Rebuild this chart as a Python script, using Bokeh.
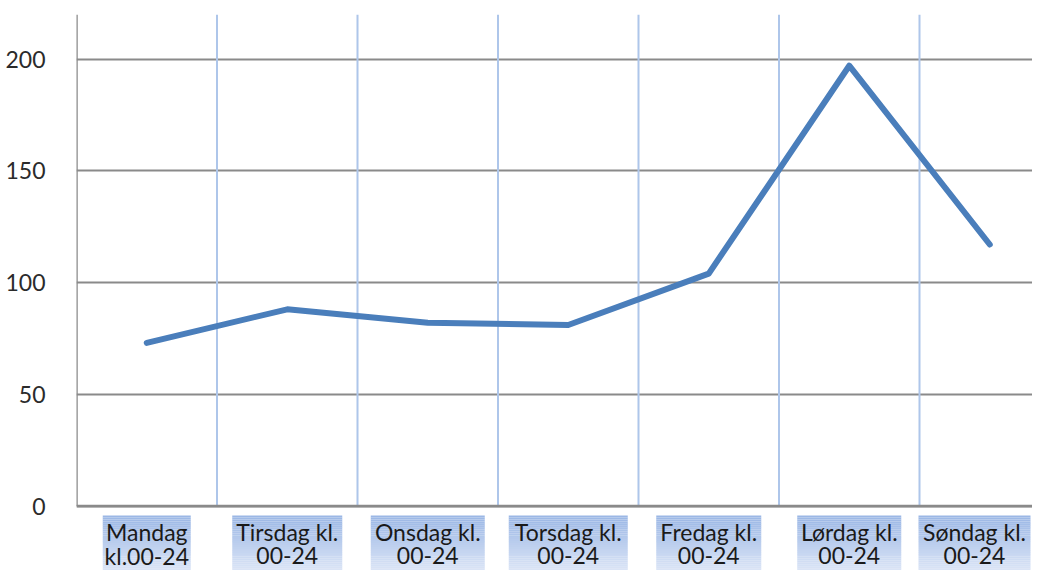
from bokeh.plotting import figure
from bokeh.models import FixedTicker, Range1d
from bokeh.core.properties import value
from bokeh.embed import file_html
from bokeh.resources import INLINE

# ---- data ----
categories = ["Mandag\nkl.00-24", "Tirsdag kl.\n00-24", "Onsdag kl.\n00-24",
              "Torsdag kl.\n00-24", "Fredag kl.\n00-24", "Lørdag kl.\n00-24",
              "Søndag kl.\n00-24"]
values = [73, 88, 82, 81, 104, 197, 117]
y_ticks = [0, 50, 100, 150, 200]

# ---- style / layout constants ----
W, H = 1032, 570
LEFT, TOP = 76, 14
CAT_PX = 140.5           # pixels per category
PX_PER_UNIT = 2.235      # pixels per y unit
ZERO_FROM_TOP = 491.5    # pixels from frame top to y=0
frame_w = W - LEFT
frame_h = H - TOP
x_end = frame_w / CAT_PX
y_top = ZERO_FROM_TOP / PX_PER_UNIT
y_bot = -(frame_h - ZERO_FROM_TOP) / PX_PER_UNIT
box_px = [88, 110, 114, 119, 105, 104, 112]   # label box widths in px
FONT = "Lato"


def px_to_y(canvas_y):
    """canvas pixel row -> data y"""
    return -(canvas_y - TOP - ZERO_FROM_TOP) / PX_PER_UNIT


p = figure(width=W, height=H, output_backend="svg", toolbar_location=None,
           x_range=Range1d(0, x_end), y_range=Range1d(y_bot, y_top),
           x_axis_location=None, min_border_left=LEFT, min_border_top=TOP,
           min_border_bottom=0, min_border_right=0)
p.outline_line_color = None
p.background_fill_color = "white"
p.border_fill_color = "white"

# y axis
p.yaxis.ticker = FixedTicker(ticks=y_ticks)
p.yaxis.axis_line_color = None
p.yaxis.major_tick_line_color = None
p.yaxis.minor_tick_line_color = None
p.yaxis.major_label_standoff = 25
p.yaxis.major_label_text_font = FONT
p.yaxis.major_label_text_font_size = "23px"
p.yaxis.major_label_text_color = "#2b2b2b"

# horizontal grid
p.ygrid.ticker = FixedTicker(ticks=y_ticks)
p.ygrid.grid_line_color = "#8a8a8a"
p.ygrid.grid_line_width = 2
p.xgrid.grid_line_color = None

n = len(categories)
xs = [i + 0.5 for i in range(n)]
# label centres, kept inside the frame
lx = [min(x, x_end - (box_px[i] / 2 + 2) / CAT_PX) for i, x in enumerate(xs)]

# vertical grid lines between categories (only in plot area)
bx = [float(i) for i in range(1, n)]
p.segment(x0=bx, y0=[0] * len(bx), x1=bx, y1=[y_top] * len(bx),
          line_color="#aec6ea", line_width=2)

# axis lines
p.segment(x0=[0], y0=[0], x1=[0], y1=[y_top], line_color="#8a8a8a", line_width=2.5)
p.segment(x0=[0], y0=[0], x1=[x_end], y1=[0], line_color="#8a8a8a", line_width=2.5)

# gradient label boxes
top_c = (155, 183, 229)
bot_c = (218, 228, 246)
box_top = px_to_y(515)
steps = 28
span = box_top - y_bot
for s in range(steps):
    t = s / (steps - 1)
    col = "#%02x%02x%02x" % tuple(int(round(a + (b - a) * t)) for a, b in zip(top_c, bot_c))
    yt = box_top - span * s / steps
    yb = box_top - span * (s + 1) / steps - 0.05
    p.quad(left=[x - box_px[i] / CAT_PX / 2 for i, x in enumerate(lx)],
           right=[x + box_px[i] / CAT_PX / 2 for i, x in enumerate(lx)],
           top=[yt] * n, bottom=[yb] * n, fill_color=col, line_color=None)

# category labels
line1 = [c.split("\n")[0] for c in categories]
line2 = [c.split("\n")[1] for c in categories]
for txt, yy in ((line1, px_to_y(531)), (line2, px_to_y(555))):
    p.text(x=lx, y=[yy] * n, text=txt, text_font=value(FONT), text_font_size="23px",
           text_color="#1a1a1a", text_align="center", text_baseline="middle")

# data line
p.line(xs, values, line_color="#4a7ebb", line_width=6,
       line_join="round", line_cap="round")

open("out.html", "w").write(file_html(p, INLINE))
